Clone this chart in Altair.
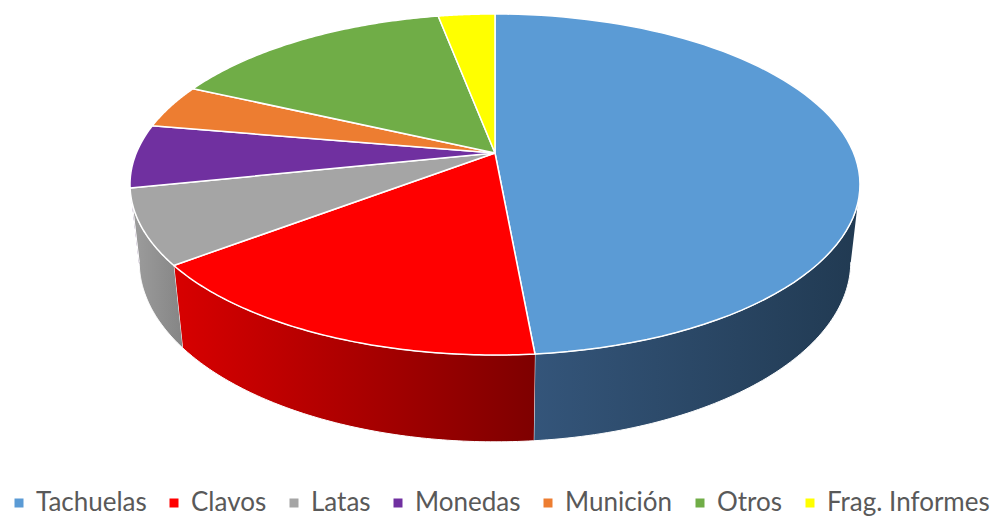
import altair as alt
import pandas as pd

# ---- data ----
cats = ["Tachuelas", "Clavos", "Latas", "Monedas", "Munición", "Otros", "Frag. Informes"]
vals = [48.6, 16.1, 7.1, 6.0, 4.2, 15.1, 3.0]
top_colors = ["#5b9bd5", "#ff0000", "#a5a5a5", "#7030a0", "#ed7d31", "#70ad47", "#ffff00"]
rim_left = ["#34557a", "#d80000", "#9e9e9e", "#4e2170", "#a65722", "#4e7932", "#b3b300"]
rim_right = ["#213a52", "#7e0000", "#858585", "#3a1855", "#7c4119", "#3a5a25", "#868600"]

df = pd.DataFrame({"cat": cats, "value": vals, "idx": list(range(len(cats)))})

# ---- projection parameters (3D look) ----
CX, CY = 495, 153
F, G, C = 358.7, 164.7, 0.1847
H, E = 78, 0.025
N = 80
LO, HI = 0.2794, 0.7206  # visible part of the rim (fraction of the turn)

xs = alt.Scale(domain=[0, 994], nice=False, zero=False)
ys = alt.Scale(domain=[0, 516], nice=False, zero=False, reverse=True)


def base():
    return (
        alt.Chart(df)
        .transform_window(cum="sum(value)", sort=[alt.SortField("idx")], frame=[None, 0])
        .transform_joinaggregate(total="sum(value)")
        .transform_calculate(
            start="(datum.cum - datum.value) / datum.total",
            end="datum.cum / datum.total",
        )
    )


# rim (side wall) layers
layers = []
for i, c in enumerate(cats):
    rim = (
        base()
        .transform_filter(alt.datum.cat == c)
        .transform_calculate(a=f"max(datum.start, {LO})", b=f"min(datum.end, {HI})")
        .transform_filter("datum.b > datum.a")
        .transform_calculate(j=f"sequence(0, {2 * N + 2})")
        .transform_flatten(["j"])
        .transform_calculate(top=f"datum.j <= {N}")
        .transform_calculate(
            t=f"datum.top ? datum.a + (datum.b - datum.a) * datum.j / {N} : datum.b - (datum.b - datum.a) * (datum.j - {N} - 1) / {N}"
        )
        .transform_calculate(X="sin(2 * PI * datum.t)", Z="-cos(2 * PI * datum.t)")
        .transform_calculate(d=f"datum.top ? 1 - {C} * datum.Z : 1 - {C} * datum.Z + {E}")
        .transform_calculate(
            px=f"{CX} + {F} * datum.X / datum.d",
            py=f"datum.top ? {CY} + {G} * datum.Z / datum.d : {CY} + ({G} * datum.Z + {H}) / datum.d",
        )
        .mark_line(
            fill=alt.Gradient(
                gradient="linear",
                stops=[
                    alt.GradientStop(color=rim_left[i], offset=0),
                    alt.GradientStop(color=rim_right[i], offset=1),
                ],
                x1=0, x2=1, y1=0, y2=0,
            ),
            stroke="white",
            strokeWidth=1,
            interpolate="linear",
        )
        .encode(
            x=alt.X("px:Q", scale=xs, axis=None),
            y=alt.Y("py:Q", scale=ys, axis=None),
            order=alt.Order("j:Q"),
            detail="cat:N",
        )
    )
    layers.append(rim)

top = (
    base()
    .transform_calculate(k=f"sequence(0, {N + 3})")
    .transform_flatten(["k"])
    .transform_calculate(isC=f"datum.k == 0 || datum.k == {N + 2}")
    .transform_calculate(t=f"datum.start + (datum.end - datum.start) * (datum.k - 1) / {N}")
    .transform_calculate(X="sin(2 * PI * datum.t)", Z="-cos(2 * PI * datum.t)")
    .transform_calculate(d=f"1 - {C} * datum.Z")
    .transform_calculate(
        px=f"datum.isC ? {CX} : {CX} + {F} * datum.X / datum.d",
        py=f"datum.isC ? {CY} : {CY} + {G} * datum.Z / datum.d",
    )
    .mark_line(stroke="white", strokeWidth=1.5, interpolate="linear", strokeJoin="round")
    .encode(
        x=alt.X("px:Q", scale=xs, axis=None),
        y=alt.Y("py:Q", scale=ys, axis=None),
        order=alt.Order("k:Q"),
        detail="cat:N",
        fill=alt.Fill(
            "cat:N",
            scale=alt.Scale(domain=cats, range=top_colors),
            sort=cats,
            legend=alt.Legend(
                title=None,
                orient="none",
                legendX=6,
                legendY=490,
                padding=0,
                direction="horizontal",
                symbolType="square",
                symbolSize=81,
                symbolStrokeWidth=0,
                symbolOpacity=1,
                labelFont="Lato",
                labelFontSize=26,
                labelColor="#595959",
                labelOffset=4,
                labelLimit=400,
                columnPadding=14,
            ),
        ),
    )
)
layers.append(top)

chart = (
    alt.layer(*layers)
    .properties(width=994, height=516, autosize=alt.AutoSizeParams(type="none"), padding=0, background="white")
    .configure_view(stroke=None)
)

chart.save("out.html", embed_options={"renderer": "svg", "actions": False})
